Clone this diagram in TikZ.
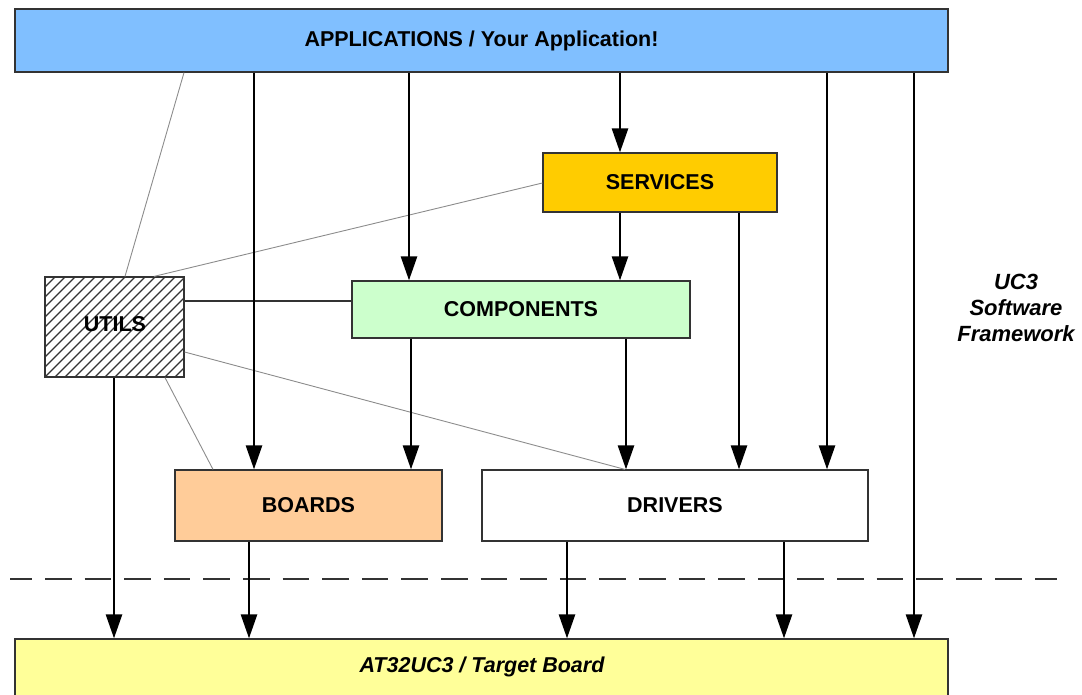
\documentclass[tikz,border=0pt]{standalone}
\usepackage{fontspec}
\setmainfont{Liberation Sans}
\usetikzlibrary{arrows.meta}
\definecolor{appblue}{RGB}{128,191,255}
\definecolor{servyellow}{RGB}{255,204,0}
\definecolor{compgreen}{RGB}{204,255,204}
\definecolor{boardorange}{RGB}{255,204,153}
\definecolor{targetyellow}{RGB}{255,255,153}
\definecolor{edgegrey}{RGB}{51,51,51}
\definecolor{linkgrey}{RGB}{140,140,140}
\begin{document}
\begin{tikzpicture}[x=1pt,y=-1pt,
  layer/.style={draw=edgegrey,line width=1.2pt,inner sep=0pt,
    font=\fontsize{21.5}{24}\selectfont\bfseries},
  flow/.style={line width=2.6pt,-{Triangle[width=16pt,length=24pt]}},
  link/.style={draw=linkgrey,line width=0.9pt},
  hardlink/.style={draw=edgegrey,line width=1.2pt},
  hatched/.style={path picture={
      \foreach \k in {0,...,26}
        \draw[line width=1.3pt]
          ([xshift=\k*10pt-110pt]path picture bounding box.south west) -- ++(110,-110);
    }},
]
\useasboundingbox (0,0) rectangle (1082,695);

% layer boxes
\node[layer,fill=appblue,minimum width=933pt,minimum height=63pt] (app) at (481.5,40.5)
  {APPLICATIONS / Your Application!};
\node[layer,fill=servyellow,minimum width=234pt,minimum height=59pt] (serv) at (660,182.5)
  {SERVICES};
\node[layer,fill=compgreen,minimum width=338pt,minimum height=57pt] (comp) at (521,309.5)
  {COMPONENTS};
\node[layer,fill=white,hatched,minimum width=139pt,minimum height=100pt] (utils) at (114.5,327)
  {};
\node[font=\fontsize{21.5}{24}\selectfont\bfseries,inner sep=0pt] (utilslabel) at (115,324) {UTILS};
\node[layer,fill=boardorange,minimum width=267pt,minimum height=71pt] (boards) at (308.5,505.5)
  {BOARDS};
\node[layer,fill=white,minimum width=386pt,minimum height=71pt] (drivers) at (675,505.5)
  {DRIVERS};
\node[layer,fill=targetyellow,minimum width=933pt,minimum height=64pt] (target) at (481.5,671)
  {};
\node[font=\fontsize{21.5}{24}\selectfont\bfseries\itshape,inner sep=0pt] (targetlabel) at (482,666.5)
  {AT32UC3 / Target Board};

% side caption
\node[align=center,inner sep=0pt,font=\fontsize{22}{26}\selectfont\bfseries\itshape] (fw) at (1016,308)
  {UC3\\Software\\Framework};

% utility links
\draw[link] (utils.north -| 125,0) -- (app.south -| 184,0);
\draw[link] (utils.north -| 154,0) -- (serv.west |- 0,183);
\draw[hardlink] (utils.east |- 0,301) -- (comp.west |- 0,301);
\draw[link] (utils.east |- 0,352) -- (drivers.north -| 625,0);
\draw[link] (utils.south -| 165,0) -- (boards.north -| 213,0);

% hardware boundary
\draw[edgegrey,line width=1.2pt,dash pattern=on 26.5pt off 13.1pt,dash phase=4.6pt]
  (10,579) -- (1057,579);

% dependencies between layers
\draw[flow] (app.south -| 254,0) -- (boards.north -| 254,0);
\draw[flow] (app.south -| 409,0) -- (comp.north -| 409,0);
\draw[flow] (app.south -| 620,0) -- (serv.north -| 620,0);
\draw[flow] (app.south -| 827,0) -- (drivers.north -| 827,0);
\draw[flow] (app.south -| 914,0) -- (target.north -| 914,0);
\draw[flow] (serv.south -| 620,0) -- (comp.north -| 620,0);
\draw[flow] (serv.south -| 739,0) -- (drivers.north -| 739,0);
\draw[flow] (comp.south -| 411,0) -- (boards.north -| 411,0);
\draw[flow] (comp.south -| 626,0) -- (drivers.north -| 626,0);
\draw[flow] (utils.south -| 114,0) -- (target.north -| 114,0);
\draw[flow] (boards.south -| 249,0) -- (target.north -| 249,0);
\draw[flow] (drivers.south -| 567,0) -- (target.north -| 567,0);
\draw[flow] (drivers.south -| 784,0) -- (target.north -| 784,0);
\end{tikzpicture}
\end{document}
